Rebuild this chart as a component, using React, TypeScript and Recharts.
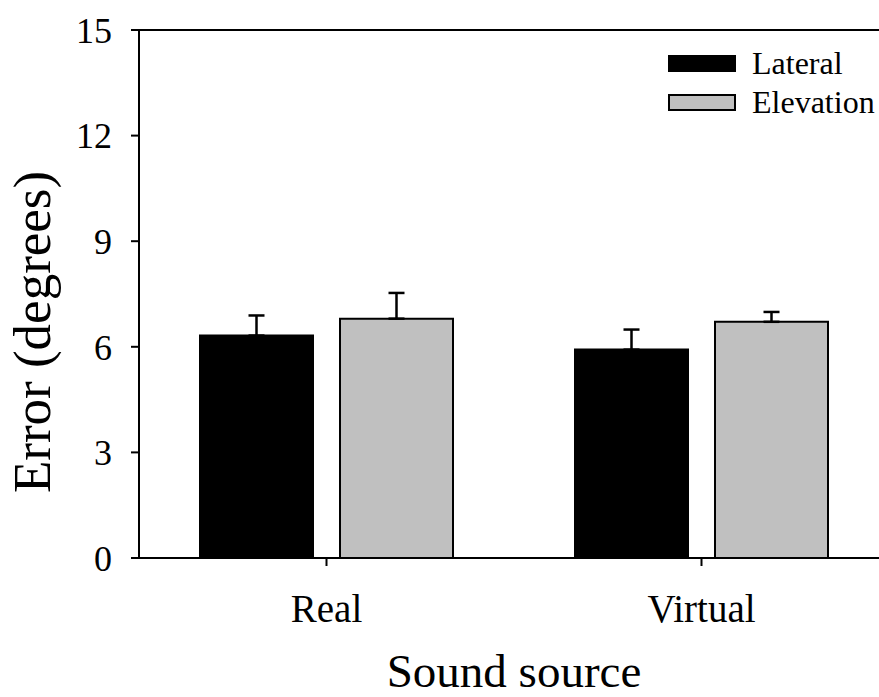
import { Bar, BarChart, ErrorBar, Legend, ReferenceLine, XAxis, YAxis } from 'recharts';

const categories = ['Real', 'Virtual'];
const lateral = [6.32, 5.92];
const lateralErr = [0.57, 0.57];
const elevation = [6.8, 6.71];
const elevationErr = [0.73, 0.28];
const yTicks = [0, 3, 6, 9, 12, 15];
const seriesNames = ['Lateral', 'Elevation'];

const seriesFill: Record<string, string> = { Lateral: '#000000', Elevation: '#c0c0c0' };

const FONT = '"Liberation Serif", "Times New Roman", serif';

const data = categories.map((name, i) => ({
  pos: i + 1,
  name,
  lateral: lateral[i],
  lateralErr: [0, lateralErr[i]],
  elevation: elevation[i],
  elevationErr: [0, elevationErr[i]],
}));

const renderLegend = (props: any) => {
  const items = [...(props.payload || [])].sort(
    (a: any, b: any) => seriesNames.indexOf(a.value) - seriesNames.indexOf(b.value)
  );
  return (
    <div style={{ fontFamily: FONT, fontSize: 32, color: '#000' }}>
      {items.map((entry: any) => (
        <div key={entry.value} style={{ display: 'flex', alignItems: 'center', height: 39, lineHeight: '39px' }}>
          <span
            style={{
              display: 'inline-block',
              width: 64,
              height: 13,
              background: seriesFill[entry.value],
              border: '2px solid #000',
              marginRight: 16,
            }}
          />
          <span>{entry.value}</span>
        </div>
      ))}
    </div>
  );
};

const YLabel = (props: any) => {
  const vb = props.viewBox || {};
  const cx = vb.x + 50;
  const cy = vb.y + vb.height / 2 + 38;
  return (
    <text
      x={cx}
      y={cy}
      transform={`rotate(-90, ${cx}, ${cy})`}
      textAnchor="middle"
      fontFamily={FONT}
      fontSize={53}
      fill="#000"
    >
      Error (degrees)
    </text>
  );
};

export default function App() {
  return (
    <div style={{ position: 'absolute', left: 0, top: 0, width: 879, height: 697, overflow: 'hidden', background: '#fff' }}>
      <BarChart width={889} height={697} data={data} margin={{ top: 30, right: 0, bottom: 0, left: 0 }} barSize={113} barGap={27}>
        <XAxis
          type="number"
          dataKey="pos"
          domain={[0.5, 2.5]}
          ticks={[1, 2]}
          tickFormatter={(v) => categories[v - 1]}
          height={139}
          stroke="#000"
          strokeWidth={2}
          tickSize={8}
          tickMargin={28}
          tick={{ fontFamily: FONT, fontSize: 39, fill: '#000' }}
          label={{ value: 'Sound source', position: 'insideBottom', offset: 10, fontFamily: FONT, fontSize: 47, fill: '#000' }}
        />
        <YAxis
          domain={[0, 15]}
          ticks={yTicks}
          width={139}
          stroke="#000"
          strokeWidth={2}
          tickSize={8}
          tickMargin={19}
          tick={{ fontFamily: FONT, fontSize: 36, fill: '#000' }}
          label={<YLabel />}
        />
        <ReferenceLine y={15} stroke="#000" strokeWidth={2} />
        <Legend
          layout="vertical"
          align="center"
          verticalAlign="middle"
          content={renderLegend}
          wrapperStyle={{ position: 'absolute', top: 44, left: 668, width: 210, height: 80 }}
        />
        <Bar dataKey="lateral" name="Lateral" fill="#000000" stroke="#000" strokeWidth={2} isAnimationActive={false}>
          <ErrorBar dataKey="lateralErr" width={8} stroke="#000" strokeWidth={2.5} direction="y" />
        </Bar>
        <Bar dataKey="elevation" name="Elevation" fill="#c0c0c0" stroke="#000" strokeWidth={2} isAnimationActive={false}>
          <ErrorBar dataKey="elevationErr" width={8} stroke="#000" strokeWidth={2.5} direction="y" />
        </Bar>
      </BarChart>
    </div>
  );
}
